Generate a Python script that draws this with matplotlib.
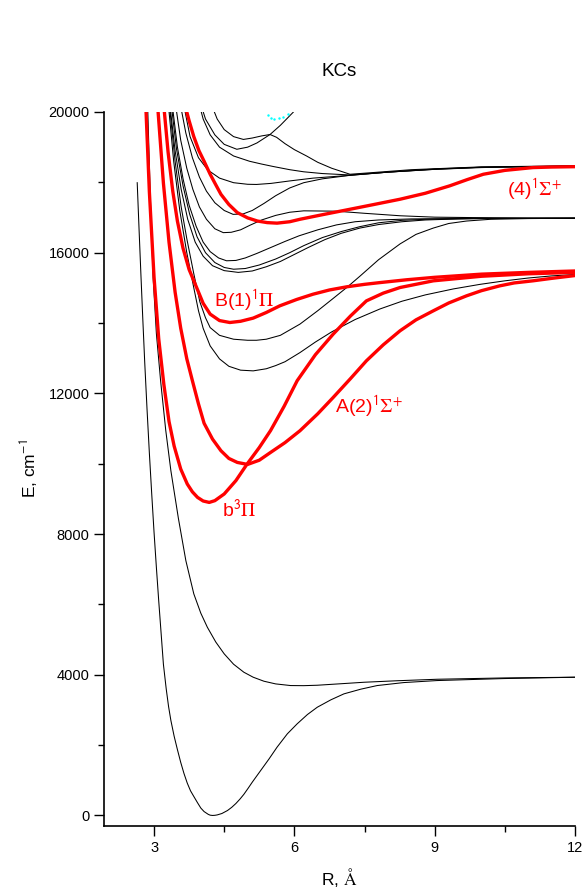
import numpy as np
import matplotlib.pyplot as plt

plt.rcParams['font.family'] = ['Liberation Sans', 'DejaVu Sans']
plt.rcParams['mathtext.fontset'] = 'stix'

# ground state and lowest triplet
X_R = [2.64, 2.68, 2.72, 2.76, 2.80, 2.85, 2.90, 2.95, 3.00, 3.05, 3.10, 3.15, 3.20, 3.26, 3.31, 3.36, 3.43, 3.50,
       3.57, 3.64, 3.71, 3.78, 3.85, 3.93, 4.00, 4.07, 4.16, 4.20, 4.25, 4.30, 4.35, 4.45, 4.57, 4.66, 4.75, 4.84,
       4.92, 5.01, 5.10, 5.28, 5.46, 5.63, 5.85, 6.06, 6.28, 6.49, 6.78, 7.06, 7.42, 7.77, 8.34, 9.05, 10.48, 12.0]
X_E = [17990, 16650, 15350, 14100, 12900, 11550, 10300, 9150, 8050, 7050, 6100, 5200, 4300, 3600, 3100, 2700, 2250, 1870,
       1510, 1193, 920, 700, 540, 360, 210, 110, 30, 8, 0, 4, 15, 55, 140, 230, 340, 470,
       600, 770, 946, 1278, 1610, 1941, 2321, 2605, 2870, 3077, 3287, 3457, 3590, 3693, 3778, 3835, 3892, 3930]

a_R = [2.86, 2.92, 2.98, 3.05, 3.14, 3.25, 3.36, 3.52, 3.68, 3.85, 4.00, 4.14, 4.32, 4.50, 4.70, 4.92, 5.12, 5.35,
       5.60, 5.92, 6.20, 6.49, 7.00, 7.49, 8.20, 9.05, 10.5, 12.0]
a_E = [20300, 17600, 15300, 13700, 12360, 10950, 9800, 8450, 7245, 6300, 5750, 5350, 4930, 4594, 4300, 4072, 3930, 3816,
       3740, 3693, 3690, 3702, 3745, 3787, 3830, 3872, 3910, 3930]

# black excited states
c_R = [3.30, 3.42, 3.55, 3.70, 3.85, 3.95, 4.05, 4.20, 4.40, 4.60, 4.85, 5.12, 5.40, 5.60, 5.80, 6.12, 6.45, 6.80,
       7.30, 7.83, 8.30, 8.80, 9.40, 9.97, 10.5, 11.0, 11.5, 12.0]
c_E = [20300, 18600, 17200, 16000, 15000, 14350, 13850, 13350, 12980, 12770, 12660, 12640, 12700, 12790, 12900, 13160,
       13460, 13750, 14100, 14400, 14620, 14800, 14970, 15100, 15200, 15280, 15340, 15380]

d_R = [3.32, 3.45, 3.58, 3.70, 3.85, 3.98, 4.10, 4.20, 4.40, 4.70, 5.00, 5.19, 5.40, 5.70, 6.12, 6.50, 6.83, 7.12,
       7.40, 7.80, 8.26, 8.60, 8.97, 9.30, 9.68, 10.2, 11.0, 12.0]
d_E = [20300, 18600, 17300, 16400, 15400, 14600, 14150, 13870, 13650, 13540, 13510, 13510, 13540, 13650, 13970, 14350,
       14700, 15010, 15330, 15800, 16250, 16520, 16700, 16830, 16900, 16950, 16970, 16980]

w_R = [3.33, 3.45, 3.58, 3.72, 3.88, 4.05, 4.25, 4.50, 4.80, 5.10, 5.40, 5.70, 6.00, 6.30, 6.65, 7.00, 7.40, 7.80,
       8.30, 8.80, 9.50, 10.5, 12.0]
w_E = [20300, 18900, 17800, 16950, 16300, 15900, 15630, 15490, 15440, 15480, 15600, 15750, 15950, 16150, 16370, 16550,
       16700, 16800, 16880, 16930, 16960, 16975, 16980]

x2_R = [3.36, 3.48, 3.62, 3.76, 3.92, 4.10, 4.30, 4.50, 4.70, 4.95, 5.25, 5.60, 5.90, 6.20, 6.60, 7.00, 7.40, 7.80,
        8.30, 8.80, 10.0, 12.0]
x2_E = [20300, 18950, 17900, 17100, 16450, 16000, 15720, 15580, 15530, 15550, 15650, 15820, 16000, 16200, 16430, 16600,
        16740, 16850, 16920, 16950, 16975, 16980]

v_R = [3.38, 3.50, 3.62, 3.75, 3.90, 4.05, 4.20, 4.38, 4.55, 4.75, 4.95, 5.20, 5.50, 5.80, 6.10, 6.50, 6.90, 7.30,
       7.80, 8.50, 10.0, 12.0]
v_E = [20300, 19000, 18100, 17350, 16750, 16300, 16030, 15850, 15770, 15780, 15850, 15980, 16150, 16320, 16480, 16650,
       16790, 16880, 16930, 16960, 16975, 16980]

u_R = [3.45, 3.57, 3.70, 3.83, 3.97, 4.12, 4.30, 4.48, 4.65, 4.85, 5.05, 5.30, 5.60, 5.90, 6.20, 6.90, 7.50, 8.26,
       9.00, 9.68, 11.0, 12.0]
u_E = [20300, 19200, 18400, 17800, 17300, 16950, 16680, 16570, 16580, 16650, 16780, 16930, 17060, 17150, 17190, 17180,
       17120, 17050, 17010, 17000, 16985, 16980]

t_R = [3.55, 3.68, 3.82, 3.97, 4.12, 4.30, 4.50, 4.69, 4.90, 5.10, 5.35, 5.60, 5.90, 6.20, 6.60, 7.19, 8.00, 9.00,
       10.0, 11.0, 12.0]
t_E = [20300, 19400, 18700, 18150, 17750, 17420, 17200, 17090, 17100, 17200, 17400, 17620, 17840, 17990, 18100, 18200,
       18290, 18370, 18420, 18450, 18460]

s_R = [3.62, 3.77, 3.95, 4.15, 4.40, 4.70, 5.00, 5.19, 5.50, 5.90, 6.40, 7.19, 8.00, 9.00, 10.0, 12.0]
s_E = [20300, 19300, 18700, 18350, 18120, 17990, 17945, 17940, 17970, 18040, 18120, 18200, 18290, 18370, 18430, 18460]

r_R = [3.95, 4.05, 4.20, 4.40, 4.70, 5.04, 5.30, 5.55, 5.90, 6.20, 6.60, 7.19, 8.00, 9.00, 10.0, 12.0]
r_E = [20300, 19800, 19350, 19000, 18750, 18600, 18520, 18450, 18360, 18300, 18250, 18210, 18290, 18380, 18430, 18460]

p_R = [4.20, 4.35, 4.50, 4.70, 4.91, 5.10, 5.30, 5.48, 5.62, 5.80, 6.00, 6.26, 6.50, 6.80, 7.19, 7.60, 8.50, 10.0, 12.0]
p_E = [20300, 19800, 19500, 19300, 19220, 19260, 19320, 19360, 19280, 19100, 18930, 18750, 18570, 18400, 18230, 18270,
       18360, 18440, 18470]

q_R = [3.98, 4.10, 4.30, 4.50, 4.77, 5.00, 5.20, 5.48, 5.70, 5.98, 6.05]
q_E = [20300, 19800, 19350, 19080, 18940, 19000, 19120, 19360, 19620, 20000, 20300]

cyan_R = [5.43, 5.50, 5.57, 5.68, 5.75, 5.86]
cyan_E = [19910, 19840, 19810, 19820, 19870, 19940]

# highlighted states
b3pi_R = [2.82, 2.90, 3.00, 3.10, 3.21, 3.32, 3.43, 3.57, 3.71, 3.82, 3.93, 4.05, 4.18, 4.30, 4.50, 4.75, 4.99, 5.25,
          5.49, 5.78, 6.06, 6.45, 6.83, 7.20, 7.54, 7.90, 8.26, 8.97, 10.0, 11.0, 12.0]
b3pi_E = [20300, 17730, 15300, 13550, 12250, 11200, 10500, 9850, 9424, 9200, 9043, 8940, 8900, 8950, 9140, 9520, 9992,
          10460, 10940, 11630, 12360, 13100, 13685, 14200, 14630, 14850, 15010, 15200, 15330, 15400, 15440]

A_R = [3.07, 3.20, 3.32, 3.45, 3.57, 3.70, 3.82, 3.95, 4.07, 4.25, 4.43, 4.60, 4.78, 5.00, 5.25, 5.49, 5.80, 6.12,
       6.50, 6.83, 7.20, 7.54, 7.90, 8.26, 8.60, 8.97, 9.30, 9.68, 10.0, 10.39, 10.7, 11.1, 11.5, 12.0]
A_E = [20300, 17980, 16300, 14880, 13855, 12985, 12360, 11700, 11150, 10700, 10370, 10150, 10037, 9980, 10100, 10320,
       10600, 10938, 11420, 11884, 12420, 12926, 13380, 13780, 14090, 14347, 14570, 14773, 14920, 15057, 15140, 15200,
       15270, 15350]

B_R = [3.20, 3.30, 3.40, 3.50, 3.62, 3.75, 3.91, 4.05, 4.20, 4.40, 4.62, 4.85, 5.12, 5.40, 5.69, 6.05, 6.40, 6.75,
       7.12, 7.50, 7.83, 8.40, 9.00, 10.0, 11.0, 12.0]
B_E = [20300, 18860, 17750, 16895, 16125, 15520, 15010, 14560, 14253, 14070, 14015, 14050, 14140, 14300, 14490, 14670,
       14820, 14940, 15030, 15100, 15150, 15230, 15300, 15390, 15440, 15480]

s4_R = [3.64, 3.75, 3.85, 3.96, 4.07, 4.20, 4.30, 4.43, 4.60, 4.78, 5.00, 5.21, 5.42, 5.63, 5.90, 6.12, 6.60, 7.19,
        7.70, 8.26, 8.80, 9.32, 9.70, 10.04, 10.5, 11.1, 11.5, 12.0]
s4_E = [20300, 19750, 19300, 18900, 18600, 18230, 17980, 17660, 17370, 17140, 16990, 16900, 16855, 16840, 16880, 16950,
        17080, 17235, 17370, 17520, 17690, 17900, 18080, 18230, 18340, 18420, 18435, 18445]

black_curves = [(X_R, X_E), (a_R, a_E), (c_R, c_E), (d_R, d_E), (w_R, w_E), (x2_R, x2_E),
                (v_R, v_E), (u_R, u_E), (t_R, t_E), (s_R, s_E), (r_R, r_E), (p_R, p_E), (q_R, q_E)]
red_curves = [(b3pi_R, b3pi_E), (A_R, A_E), (B_R, B_E), (s4_R, s4_E)]

fig = plt.figure(figsize=(5.87, 8.88), dpi=100)
ax = fig.add_axes([104 / 587, 1 - 826 / 888, 471 / 587, 714 / 888])

for R, E in black_curves:
    ax.plot(R, E, color='black', lw=0.75, solid_joinstyle='round')
for R, E in red_curves:
    ax.plot(R, E, color='red', lw=2.4, solid_joinstyle='round')
ax.plot(cyan_R, cyan_E, ls='none', marker='.', ms=1.5, color='cyan')

lab = dict(color='red', fontsize=14, va='baseline', ha='left')
ax.text(10.54, 17590, r'(4)$^{\mathsf{1}}\Sigma^{\mathsf{+}}$', **lab)
ax.text(4.28, 14440, r'B(1)$^{\mathsf{1}}\Pi$', **lab)
ax.text(6.87, 11420, r'A(2)$^{\mathsf{1}}\Sigma^{\mathsf{+}}$', **lab)
ax.text(4.46, 8470, r'b$^{\mathsf{3}}\Pi$', **lab)

ax.set_xlim(1.93, 12)
ax.set_ylim(-300, 20000)
ax.set_xticks([3, 6, 9, 12])
ax.set_xticks([4.5, 7.5, 10.5], minor=True)
ax.set_yticks([0, 4000, 8000, 12000, 16000, 20000])
ax.set_yticks([2000, 6000, 10000, 14000, 18000], minor=True)
ax.tick_params(which='major', direction='out', length=7, width=1, labelsize=10.5)
ax.tick_params(which='minor', direction='out', length=4, width=1)
for side in ['top', 'right']:
    ax.spines[side].set_visible(False)
for side in ['left', 'bottom']:
    ax.spines[side].set_linewidth(1.2)

ax.set_xlabel(r'R, $\mathrm{\AA}$', fontsize=12.5, labelpad=8)
ax.set_ylabel(r'E, cm$^{\mathsf{-1}}$', fontsize=12.5, labelpad=6)
ax.set_title('KCs', fontsize=13.5, pad=26)

fig.savefig('out.png', dpi=100)
